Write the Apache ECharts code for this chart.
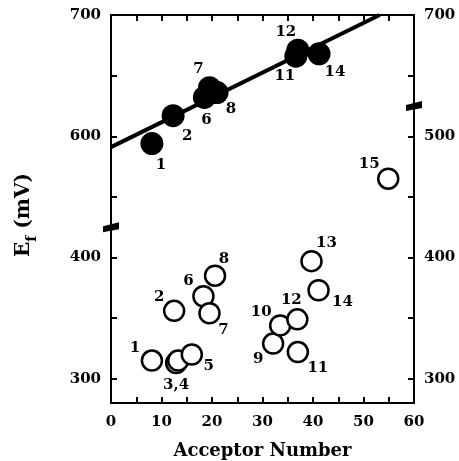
<!DOCTYPE html>
<html>
<head>
<meta charset="utf-8">
<script src="https://cdn.jsdelivr.net/npm/echarts@6/dist/echarts.min.js"></script>
<style>
  html, body { margin: 0; padding: 0; background: #ffffff; }
  #chart { width: 459px; height: 461px; }
</style>
</head>
<body>
<div id="chart"></div>
<script>
// Filled circles: formal potentials read on the left axis
const filledIds = ['1', '2', '6', '7', '8', '11', '12', '14'];
const filledAcceptor = [8.1, 12.3, 18.5, 19.5, 21.0, 36.6, 37.0, 41.2];
const filledEf = [594, 617, 632, 640, 636, 666, 671, 668];

// Open circles: formal potentials read on the right axis
const openIds = ['1', '2', '3,4', '', '5', '6', '7', '8', '9', '10', '11', '12', '13', '14', '15'];
const openAcceptor = [8.1, 12.5, 12.9, 13.3, 16.0, 18.3, 19.5, 20.6, 32.1, 33.5, 37.0, 36.9, 39.7, 41.1, 54.9];
const openEf = [315, 356, 313, 315, 320, 368, 354, 385, 329, 344, 322, 349, 397, 373, 465];

// Linear fit through the filled circles
const fitAcceptor = [0, 53.2];
const fitEf = [591, 700];

// Axis ticks and labels
const xTicks = [0, 5, 10, 15, 20, 25, 30, 35, 40, 45, 50, 55, 60];
const xLabels = [0, 10, 20, 30, 40, 50, 60];
const leftTicks = [300, 350, 400, 550, 600, 650, 700];
const leftLabels = [300, 400, 600, 700];
const rightTicks = [300, 350, 400, 450, 500, 650, 700];
const rightLabels = [300, 400, 500, 700];
const leftBreak = [425, 525];
const rightBreak = [525, 625];

// Label placement (pixel offsets from each marker centre)
const filledLabelOffsets = [[9, 22], [14, 20], [2, 23], [-11, -19], [14, 17], [-11, 20], [-12, -18], [16, 18]];
const openLabelOffsets = [[-17, -12], [-15, -14], [0, 22], [0, 0], [17, 12], [-15, -15], [14, 17], [9, -17],
  [-15, 16], [-19, -13], [20, 16], [-6, -19], [15, -18], [24, 12], [-19, -15]];

const FONT = 'DejaVu Serif';
const INK = '#000000';

const labelStyle = {
  show: true,
  position: 'inside',
  color: INK,
  fontFamily: FONT,
  fontWeight: 'bold',
  fontSize: 15
};

function points(xs, ys, ids, offsets) {
  return xs.map((x, i) => ({
    value: [x, ys[i]],
    label: Object.assign({}, labelStyle, { formatter: ids[i], offset: offsets[i] })
  }));
}

function valueAxisY(position, ticks, labels, brk) {
  return {
    type: 'value',
    position: position,
    min: 280,
    max: 700,
    breaks: [{ start: brk[0], end: brk[1], gap: 0 }],
    breakArea: { show: false },
    axisLine: { show: true, onZero: false, lineStyle: { color: INK, width: 2 } },
    axisTick: { show: true, inside: true, length: 6, customValues: ticks, lineStyle: { color: INK, width: 2 } },
    axisLabel: {
      show: true, customValues: labels, color: INK, fontFamily: FONT, fontWeight: 'bold',
      fontSize: 15, margin: 10
    },
    splitLine: { show: false }
  };
}

const chart = echarts.init(document.getElementById('chart'), null, { renderer: 'canvas' });

const leftAxis = valueAxisY('left', leftTicks, leftLabels, leftBreak);
leftAxis.name = '{e|E}{f|f}{u| (mV)}';
leftAxis.nameLocation = 'middle';
leftAxis.nameGap = 72;
leftAxis.nameTextStyle = {
  color: INK,
  padding: [0, 12, 0, 0],
  rich: {
    e: { fontFamily: FONT, fontWeight: 'bold', fontSize: 20, color: INK, lineHeight: 30, verticalAlign: 'middle' },
    f: { fontFamily: FONT, fontWeight: 'bold', fontSize: 14, color: INK, lineHeight: 14, verticalAlign: 'bottom' },
    u: { fontFamily: FONT, fontWeight: 'bold', fontSize: 20, color: INK, lineHeight: 30, verticalAlign: 'middle' }
  }
};

const rightAxis = valueAxisY('right', rightTicks, rightLabels, rightBreak);

chart.setOption({
  animation: false,
  backgroundColor: '#ffffff',
  grid: { left: 111, right: 45, top: 15, bottom: 58, containLabel: false, outerBoundsMode: 'none' },
  xAxis: [
    {
      type: 'value',
      position: 'bottom',
      min: 0,
      max: 60,
      name: 'Acceptor Number',
      nameLocation: 'middle',
      nameGap: 39,
      nameTextStyle: { color: INK, fontFamily: FONT, fontWeight: 'bold', fontSize: 18 },
      axisLine: { show: true, onZero: false, lineStyle: { color: INK, width: 2 } },
      axisTick: { show: true, inside: true, length: 6, customValues: xTicks, lineStyle: { color: INK, width: 2 } },
      axisLabel: { customValues: xLabels, color: INK, fontFamily: FONT, fontWeight: 'bold', fontSize: 15, margin: 12 },
      splitLine: { show: false }
    },
    {
      type: 'value',
      position: 'top',
      min: 0,
      max: 60,
      axisLine: { show: true, onZero: false, lineStyle: { color: INK, width: 2 } },
      axisTick: { show: true, inside: true, length: 6, customValues: xTicks, lineStyle: { color: INK, width: 2 } },
      axisLabel: { show: false },
      splitLine: { show: false }
    }
  ],
  yAxis: [leftAxis, rightAxis],
  series: [
    {
      name: 'fit',
      type: 'line',
      xAxisIndex: 0,
      yAxisIndex: 0,
      data: fitAcceptor.map((x, i) => [x, fitEf[i]]),
      showSymbol: false,
      symbol: 'none',
      lineStyle: { color: INK, width: 4 },
      clip: true,
      z: 2
    },
    {
      name: 'filled',
      type: 'scatter',
      xAxisIndex: 0,
      yAxisIndex: 0,
      symbol: 'circle',
      symbolSize: 23,
      itemStyle: { color: INK, opacity: 1 },
      data: points(filledAcceptor, filledEf, filledIds, filledLabelOffsets),
      z: 3
    },
    {
      name: 'open',
      type: 'scatter',
      xAxisIndex: 0,
      yAxisIndex: 1,
      symbol: 'circle',
      symbolSize: 20,
      itemStyle: { color: '#ffffff', borderColor: INK, borderWidth: 2.5, opacity: 1 },
      data: points(openAcceptor, openEf, openIds, openLabelOffsets),
      z: 3
    }
  ]
});

// Break marks on both vertical axis lines
function breakMark(x, y) {
  return {
    type: 'polygon',
    shape: { points: [[x - 8, y - 1], [x + 8, y - 5], [x + 8, y + 2], [x - 8, y + 5]] },
    style: { fill: INK },
    z: 100
  };
}
const xLeft = chart.convertToPixel({ xAxisIndex: 0 }, 0);
const xRight = chart.convertToPixel({ xAxisIndex: 0 }, 60);
const yLeftBreak = chart.convertToPixel({ yAxisIndex: 0 }, leftBreak[0]);
const yRightBreak = chart.convertToPixel({ yAxisIndex: 1 }, rightBreak[0]);
chart.setOption({ graphic: [breakMark(xLeft, yLeftBreak), breakMark(xRight, yRightBreak)] });
</script>
</body>
</html>
